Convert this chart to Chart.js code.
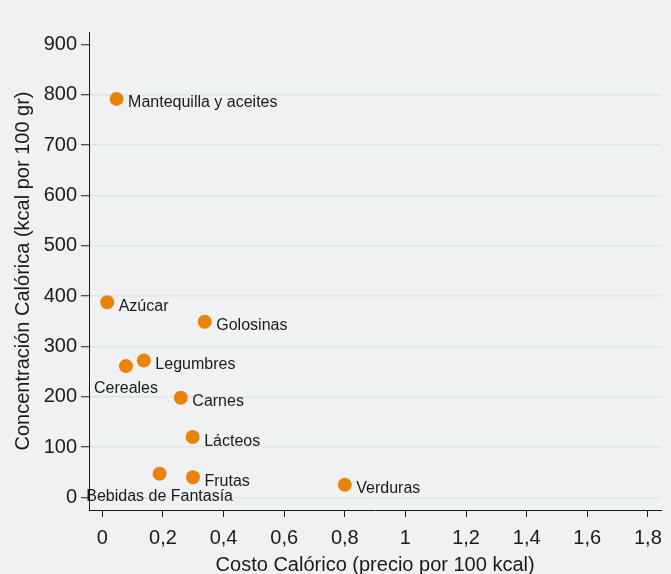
<!DOCTYPE html>
<html>
<head>
<meta charset="utf-8">
<script src="https://cdn.jsdelivr.net/npm/chart.js@4"></script>
<style>
  html, body { margin: 0; padding: 0; background: #eff1f3; }
  #wrap { width: 671px; height: 574px; }
</style>
</head>
<body>
<div id="wrap"><canvas id="chart" width="671" height="574"></canvas></div>
<script>
// data
const categories = ['Mantequilla y aceites', 'Azúcar', 'Golosinas', 'Legumbres', 'Cereales',
  'Carnes', 'Lácteos', 'Bebidas de Fantasía', 'Frutas', 'Verduras'];
const costValues = [0.047, 0.016, 0.338, 0.137, 0.078, 0.259, 0.298, 0.189, 0.299, 0.80];
const calorieValues = [792, 388, 349, 272, 261, 198, 120, 47, 40, 25];
const xTickValues = [0, 0.2, 0.4, 0.6, 0.8, 1, 1.2, 1.4, 1.6, 1.8];
const yTickValues = [0, 100, 200, 300, 400, 500, 600, 700, 800, 900];
// labels drawn under the dot instead of to its right
const labelBelow = ['Cereales', 'Bebidas de Fantasía'];

const FONT = "Arial, 'Liberation Sans', sans-serif";
const INK = '#1a1a1a';

// draw the category names next to each point
const pointLabels = {
  id: 'pointLabels',
  afterDatasetsDraw(chart) {
    const ctx = chart.ctx;
    const xs = chart.scales.x, ys = chart.scales.y;
    ctx.save();
    ctx.font = '16px ' + FONT;
    ctx.fillStyle = INK;
    ctx.textBaseline = 'alphabetic';
    categories.forEach((name, i) => {
      const px = xs.getPixelForValue(costValues[i]);
      const py = ys.getPixelForValue(calorieValues[i]);
      if (labelBelow.includes(name)) {
        ctx.textAlign = 'center';
        ctx.fillText(name, px, py + 27);
      } else {
        ctx.textAlign = 'left';
        ctx.fillText(name, px + 11.5, py + 8.5);
      }
    });
    ctx.restore();
  }
};

new Chart(document.getElementById('chart'), {
  type: 'scatter',
  data: {
    datasets: [{
      data: costValues.map((v, i) => ({ x: v, y: calorieValues[i] })),
      backgroundColor: '#e8830b',
      borderColor: '#e8830b',
      pointRadius: 7,
      pointHoverRadius: 7,
      borderWidth: 0
    }]
  },
  plugins: [pointLabels],
  options: {
    responsive: false,
    animation: false,
    layout: { padding: { left: 11, top: 32, right: 9, bottom: 0 } },
    plugins: { legend: { display: false }, tooltip: { enabled: false } },
    scales: {
      x: {
        type: 'linear',
        min: -0.044,
        max: 1.844,
        afterBuildTicks: s => { s.ticks = xTickValues.map(v => ({ value: v })); },
        afterFit: s => { s.height = 64; },
        grid: { drawOnChartArea: false, tickLength: 7, tickColor: INK, tickWidth: 1 },
        border: { display: true, color: INK, width: 1 },
        ticks: {
          color: INK,
          font: { family: FONT, size: 20 },
          padding: 9,
          maxRotation: 0,
          autoSkip: false,
          callback: v => String(v).replace('.', ',')
        },
        title: {
          display: true,
          text: 'Costo Calórico (precio por 100 kcal)',
          color: INK,
          font: { family: FONT, size: 20 },
          padding: { top: 0, bottom: -3 }
        }
      },
      y: {
        type: 'linear',
        min: -25,
        max: 925,
        afterBuildTicks: s => { s.ticks = yTickValues.map(v => ({ value: v })); },
        afterFit: s => { s.width = 78; },
        grid: {
          color: c => (c.tick && c.tick.value === 900 ? 'rgba(0,0,0,0)' : '#dce6eb'),
          lineWidth: 1.5,
          tickLength: 8,
          tickColor: INK,
          tickWidth: 1
        },
        border: { display: true, color: INK, width: 1 },
        ticks: {
          color: INK,
          font: { family: FONT, size: 20 },
          padding: 4,
          autoSkip: false
        },
        title: {
          display: true,
          text: 'Concentración Calórica (kcal por 100 gr)',
          color: INK,
          font: { family: FONT, size: 20 },
          padding: { top: 0, bottom: 0 }
        }
      }
    }
  }
});
</script>
</body>
</html>
